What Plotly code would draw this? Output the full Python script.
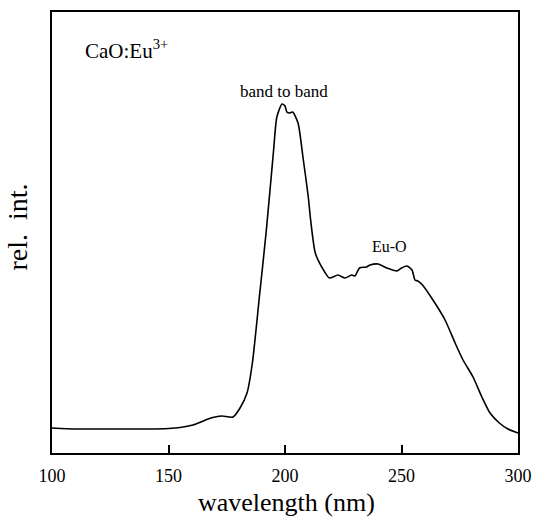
import plotly.graph_objects as go

wavelength = [100, 110, 120, 130, 140, 150, 155, 160.5, 164, 167, 170, 173, 177.7, 180.7, 183.7, 186, 189, 192,
              195, 196.5, 198.7, 200, 200.8, 202, 203.3, 205.6, 207.7, 210, 211, 213, 216, 219, 222.7, 225.7,
              228.7, 230, 232, 235, 236.5, 240, 243.7, 248, 250, 252.4, 254.5, 255.8, 257, 259, 263.5,
              268.7, 273, 276.4, 280.7, 284.5, 288, 292, 295.7, 300]
intensity = [25, 24, 24, 24, 24, 24.5, 25.5, 28, 31, 34, 36, 37, 36, 45, 60, 90, 156, 223,
             300, 336, 349, 347, 341, 340, 341, 330, 296, 256, 233, 200, 185, 175, 178, 175,
             178, 177, 185, 186, 188, 189, 185, 182, 185, 187, 183, 173, 172, 168, 153,
             133, 110, 93, 76, 56, 40, 30, 24, 20]

tick_vals = [100, 150, 200, 250, 300]

fig = go.Figure()
fig.add_trace(go.Scatter(x=wavelength, y=intensity, mode="lines",
                         line=dict(color="black", width=1.6, shape="spline", smoothing=0.6),
                         hoverinfo="skip", showlegend=False))

font_family = "Liberation Serif, Times New Roman, serif"

fig.update_layout(
    width=534, height=517,
    margin=dict(l=52, r=16, t=12, b=64),
    paper_bgcolor="white", plot_bgcolor="white",
    font=dict(family=font_family, color="black"),
    xaxis=dict(range=[100, 300], tickvals=tick_vals, ticks="inside", ticklen=8, tickwidth=1.5,
               tickcolor="black", showline=True, linecolor="black", linewidth=2, mirror=True,
               showgrid=False, zeroline=False, tickfont=dict(size=18, family=font_family),
               automargin=False, ticklabeloverflow="allow", ticklabelstandoff=5),
    yaxis=dict(range=[0, 441], showticklabels=False, ticks="", showline=True, linecolor="black",
               linewidth=2, mirror=True, showgrid=False, zeroline=False, automargin=False),
    annotations=[
        dict(x=0, y=0.5, xref="paper", yref="paper", text="rel.  int.", showarrow=False,
             textangle=-90, xanchor="center", yanchor="middle", xshift=-35, yshift=5,
             font=dict(size=28, family=font_family)),
        dict(x=0.5, y=0, xref="paper", yref="paper", text="wavelength (nm)", showarrow=False,
             xanchor="center", yanchor="middle", yshift=-49, xshift=1,
             font=dict(size=26, family=font_family)),
        dict(x=0.067, y=0.915, xref="paper", yref="paper", text="CaO:Eu<sup>3+</sup>", showarrow=False,
             xanchor="left", yanchor="middle", font=dict(size=21, family=font_family)),
        dict(x=199.5, y=362, xref="x", yref="y", text="band to band", showarrow=False,
             xanchor="center", yanchor="middle", font=dict(size=17, family=font_family)),
        dict(x=245, y=207, xref="x", yref="y", text="Eu-O", showarrow=False,
             xanchor="center", yanchor="middle", font=dict(size=16, family=font_family)),
    ],
)

fig.write_html("out.html", config={"displayModeBar": False},
               post_script="document.body.style.margin='0';document.body.style.overflow='hidden';")
